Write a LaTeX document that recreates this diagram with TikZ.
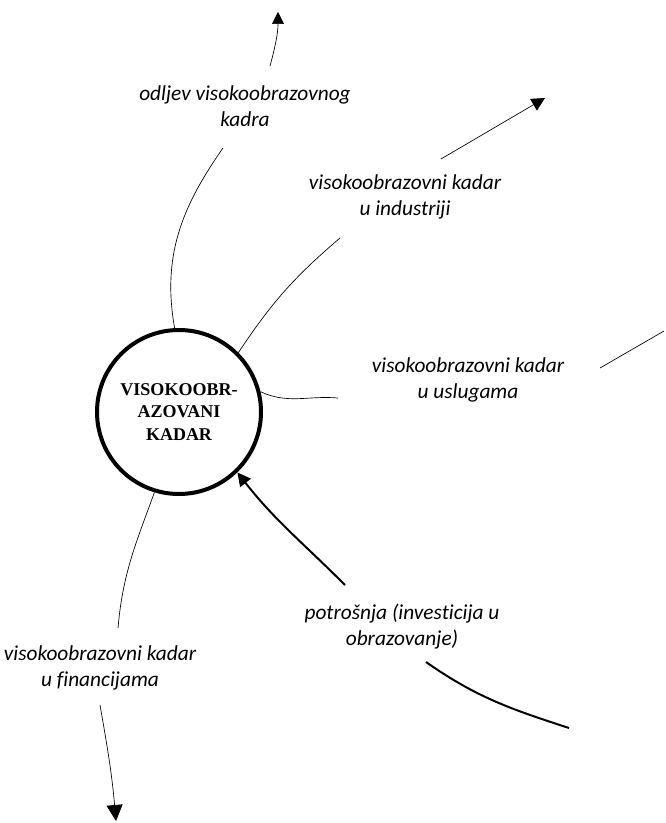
\documentclass[tikz,border=0pt]{standalone}
\usepackage{fontspec}
\setmainfont{Carlito}[Ligatures={NoCommon}]
\newfontfamily\timesfont{Liberation Serif}
\usetikzlibrary{arrows.meta, positioning}

\tikzset{
  tok/.style={font=\itshape\fontsize{16}{19.5}\selectfont, align=center, inner sep=1pt},
  flowline/.style={line width=0.5pt},
  thickflow/.style={line width=1.5pt},
  tip/.style={-{Triangle[length=#1, width=#1]}}
}

\begin{document}
\begin{tikzpicture}[x=0.75pt, y=0.75pt]
        \useasboundingbox (0,0) rectangle (666,-823);

        % Central stock
        \node[circle, draw, line width=3pt, minimum size=123pt, align=center,
              font=\timesfont\bfseries\fontsize{13.5}{17}\selectfont] (kadar) at (179,-412)
              {VISOKOOBR-\\AZOVANI\\KADAR};

        % Flow labels
        \node[tok] (odljev) at (245,-106) {odljev visokoobrazovnog\\kadra};
        \node[tok] (industrija) at (405,-197) {visokoobrazovni kadar\\u industriji};
        \node[tok] (usluge) at (468,-380) {visokoobrazovni kadar\\u uslugama};
        \node[tok] (potrosnja) at (402,-627) {potrošnja (investicija u\\obrazovanje)};
        \node[tok] (financije) at (100,-668) {visokoobrazovni kadar\\u financijama};

        % Free ends of the flows
        \coordinate (odljevIn) at (223,-148);
        \coordinate (odljevOut) at (270,-66);
        \coordinate (odljevEnd) at (278,-12);
        \coordinate (industrijaIn) at (340,-238);
        \coordinate (industrijaOut) at (441,-159);
        \coordinate (industrijaEnd) at (545,-98);
        \coordinate (uslugeIn) at (338,-398);
        \coordinate (uslugeOut) at (600,-368);
        \coordinate (uslugeEnd) at (664,-331);
        \coordinate (financijeIn) at (118,-628);
        \coordinate (financijeOut) at (100,-705);
        \coordinate (financijeEnd) at (116,-821);
        \coordinate (potrosnjaStart) at (569,-728);
        \coordinate (potrosnjaIn) at (426,-662);
        \coordinate (potrosnjaOut) at (345,-585);

        % Outflows
        \draw[flowline] (kadar.93) to[out=100, in=235] (odljevIn);
        \draw[flowline, tip=9pt] (odljevOut) to[out=75, in=-90] (odljevEnd);

        \draw[flowline] (kadar.45) to[bend left=8] (industrijaIn);
        \draw[flowline, tip=10pt] (industrijaOut) -- (industrijaEnd);

        \draw[flowline] (kadar.14) to[out=-25, in=175] (uslugeIn);
        \draw[flowline] (uslugeOut) -- (uslugeEnd);

        \draw[flowline] (kadar.-107) to[out=-110, in=85] (financijeIn);
        \draw[flowline, tip=12pt] (financijeOut) to[out=-80, in=95] (financijeEnd);

        % Inflow
        \draw[thickflow] (potrosnjaStart) to[out=162, in=-35] (potrosnjaIn);
        \draw[thickflow, tip=10pt] (potrosnjaOut) to[out=135, in=-52] (kadar.-46);

\end{tikzpicture}
\end{document}
